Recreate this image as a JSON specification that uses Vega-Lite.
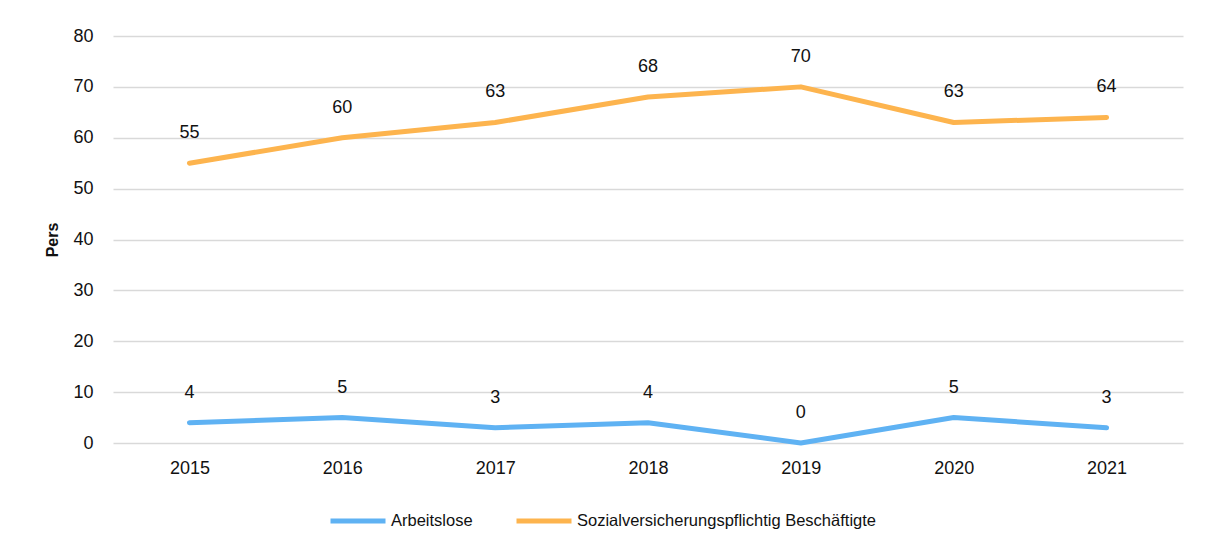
{
  "$schema": "https://vega.github.io/schema/vega-lite/v6.json",
  "autosize": {"type": "none"},
  "padding": {"left": 113, "top": 36, "right": 23, "bottom": 106},
  "width": 1070,
  "height": 407,
  "background": "white",
  "config": {
    "view": {"stroke": null},
    "font": "Liberation Sans, Arial, sans-serif"
  },
  "data": {
    "values": [
      {"year": "2015", "series": "Arbeitslose", "value": 4},
      {"year": "2016", "series": "Arbeitslose", "value": 5},
      {"year": "2017", "series": "Arbeitslose", "value": 3},
      {"year": "2018", "series": "Arbeitslose", "value": 4},
      {"year": "2019", "series": "Arbeitslose", "value": 0},
      {"year": "2020", "series": "Arbeitslose", "value": 5},
      {"year": "2021", "series": "Arbeitslose", "value": 3},
      {"year": "2015", "series": "Sozialversicherungspflichtig Beschäftigte", "value": 55},
      {"year": "2016", "series": "Sozialversicherungspflichtig Beschäftigte", "value": 60},
      {"year": "2017", "series": "Sozialversicherungspflichtig Beschäftigte", "value": 63},
      {"year": "2018", "series": "Sozialversicherungspflichtig Beschäftigte", "value": 68},
      {"year": "2019", "series": "Sozialversicherungspflichtig Beschäftigte", "value": 70},
      {"year": "2020", "series": "Sozialversicherungspflichtig Beschäftigte", "value": 63},
      {"year": "2021", "series": "Sozialversicherungspflichtig Beschäftigte", "value": 64}
    ]
  },
  "encoding": {
    "x": {
      "field": "year", "type": "ordinal",
      "scale": {"type": "point", "padding": 0.5},
      "axis": {
        "title": null, "labelAngle": 0, "domain": false, "ticks": false,
        "labelPadding": 16, "labelFontSize": 18, "labelColor": "#111111"
      }
    },
    "y": {
      "field": "value", "type": "quantitative",
      "scale": {"domain": [0, 80]},
      "axis": {
        "title": "Pers", "values": [0, 10, 20, 30, 40, 50, 60, 70, 80],
        "domain": false, "ticks": false, "labelPadding": 20,
        "labelFontSize": 18, "labelColor": "#111111",
        "titleFontSize": 16, "titleFontWeight": "bold", "titleColor": "#111111",
        "titlePadding": 12,
        "gridColor": "#d9d9d9", "gridWidth": 1.5
      }
    }
  },
  "layer": [
    {
      "mark": {"type": "line", "strokeWidth": 5, "strokeCap": "round", "strokeJoin": "round"},
      "encoding": {
        "color": {
          "field": "series", "type": "nominal",
          "scale": {
            "domain": ["Arbeitslose", "Sozialversicherungspflichtig Beschäftigte"],
            "range": ["#5fb2f3", "#fdb44e"]
          },
          "legend": {
            "title": null, "orient": "none", "direction": "horizontal",
            "legendX": 215, "legendY": 455,
            "symbolType": "stroke", "symbolSize": 3025, "symbolStrokeWidth": 5,
            "labelFontSize": 16.5, "labelColor": "#111111", "labelOffset": 3,
            "columnPadding": 33, "labelLimit": 400
          }
        }
      }
    },
    {
      "mark": {"type": "text", "dy": -30, "fontSize": 18, "color": "#111111"},
      "encoding": {
        "text": {"field": "value", "type": "quantitative"}
      }
    }
  ]
}
